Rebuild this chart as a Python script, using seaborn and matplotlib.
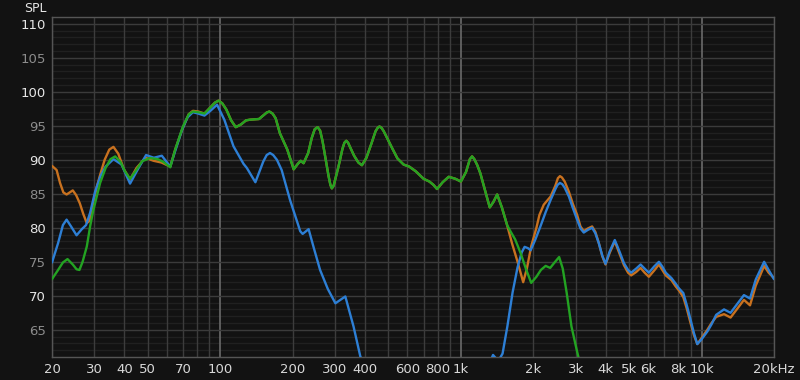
import numpy as np
import pandas as pd
import matplotlib
matplotlib.use("Agg")
import matplotlib.pyplot as plt
from matplotlib.ticker import NullLocator
import seaborn as sns

# ---------------- data ----------------
orange_freq = [20, 20.9, 21.6, 22.3, 23.0, 23.7, 24.4, 25.2, 26.1, 27.0, 27.9, 28.6, 29.7,
               30.7, 31.7, 33.1, 34.6, 36.0, 37.7, 39.8, 42.2, 44.9, 48.9, 52.9, 57.0,
               62.0, 65.0, 69.4, 74.0, 77.0, 81.0, 86.0]
orange_db = [89.1, 88.5, 86.6, 85.2, 84.9, 85.2, 85.5, 84.8, 83.6, 82.0, 80.7, 81.0, 83.8,
             86.0, 87.8, 90.0, 91.5, 91.9, 90.9, 88.6, 87.1, 88.8, 90.3, 89.85, 89.6,
             89.0, 91.5, 94.4, 96.7, 97.2, 97.1, 96.8]

green_freq = [20, 21.2, 22.2, 23.2, 24.4, 25.3, 26.0, 26.8, 27.9, 28.8, 29.7, 31.7, 33.4,
              35.0, 36.6, 38.5, 40.2, 42.2, 44.8, 47.4, 51.1, 55.0, 58.0, 62.0, 65.0,
              70.0, 74.0, 77.0, 81.0, 86.0]
green_db = [72.45, 73.8, 74.9, 75.4, 74.6, 73.9, 73.8, 75.0, 77.25, 80.2, 82.6, 86.6, 88.8,
            90.1, 90.5, 89.7, 88.3, 87.2, 88.5, 89.8, 90.25, 90.1, 89.7, 88.9, 91.5,
            94.9, 96.7, 97.1, 97.0, 96.8]

# shared part of orange and green (100 Hz - 1.5 kHz)
mid_freq = [91, 95, 98.4, 102, 106, 111, 116, 122, 128, 133, 145, 152, 156, 160, 165, 170,
            177, 190, 202, 210, 216, 222, 232, 240, 247, 254, 260, 266, 272, 282, 287,
            291, 296, 302, 310, 322, 328, 334, 340, 346, 360, 375, 388, 405, 425, 442,
            451, 459, 468, 478, 497, 520, 545, 578, 610, 650, 700, 740, 770, 796, 840,
            890, 950, 1000, 1050, 1090, 1113, 1137, 1170, 1205, 1260, 1318, 1365, 1415,
            1480, 1556]
mid_db = [97.7, 98.4, 98.7, 98.3, 97.4, 95.8, 94.8, 95.2, 95.8, 95.9, 96.0, 96.6, 96.95,
          97.1, 96.8, 96.1, 93.9, 91.5, 88.6, 89.4, 89.85, 89.5, 91.0, 93.2, 94.5, 94.8,
          94.3, 92.8, 90.8, 87.6, 86.3, 85.8, 86.2, 87.4, 89.0, 91.6, 92.5, 92.8, 92.5,
          91.9, 90.6, 89.6, 89.2, 90.3, 92.4, 94.2, 94.7, 94.9, 94.7, 94.2, 93.0, 91.6,
          90.2, 89.3, 89.0, 88.3, 87.2, 86.8, 86.3, 85.7, 86.7, 87.5, 87.2, 86.8, 88.2,
          90.1, 90.5, 90.1, 89.2, 88.0, 85.5, 83.0, 83.8, 84.9, 83.0, 80.4]

green_hi_freq = [1600, 1680, 1770, 1870, 1960, 2060, 2150, 2250, 2350, 2450, 2560, 2650,
                 2750, 2880, 3040, 3150, 3300]
green_hi_db = [79.6, 78.3, 76.3, 73.8, 71.9, 72.8, 73.8, 74.4, 74.1, 74.9, 75.7, 74.0,
               70.5, 65.5, 61.8, 59.5, 57.0]

orange_hi_freq = [1630, 1720, 1815, 1880, 1960, 2060, 2120, 2210, 2360, 2470, 2530, 2580,
                  2630, 2700, 2810, 2920, 3040, 3140, 3240, 3370, 3510, 3620, 3740, 3870,
                  3990, 4150, 4360, 4550, 4760, 4950, 5100, 5350, 5580, 5800, 6040, 6350,
                  6650, 6870, 7100, 7500, 7800, 8050, 8400, 8700, 9000, 9300, 9600, 10000,
                  10570, 11000, 11500, 12400, 13200, 14000, 15000, 15900, 16800, 18200,
                  19000, 20000]
orange_hi_db = [77.75, 75.0, 72.0, 74.0, 77.3, 80.0, 81.9, 83.4, 84.6, 86.2, 87.3, 87.6,
                87.4, 86.8, 85.3, 83.5, 81.9, 80.2, 79.5, 79.9, 80.2, 79.4, 77.8, 75.8,
                74.6, 76.3, 78.0, 76.3, 74.5, 73.4, 73.0, 73.5, 74.1, 73.4, 72.8, 73.7,
                74.6, 73.8, 73.0, 72.3, 71.4, 70.8, 69.8, 68.0, 66.0, 64.2, 62.9, 63.8,
                65.0, 66.0, 66.9, 67.3, 66.8, 68.0, 69.4, 68.6, 71.5, 74.4, 73.4, 72.6]

blue_freq = [20, 21.2, 22.2, 23.0, 24.0, 25.3, 26.6, 27.7, 28.8, 30.2, 31.7, 33.4, 36.0,
             38.9, 42.2, 45.3, 49.2, 53.0, 57.2, 62.0, 65.0, 69.4, 73.0, 77.0, 81.0, 86.0,
             91.0, 97.0, 104, 113.5, 125, 129, 140, 151, 156, 161, 166, 172, 180, 195, 215,
             220, 233, 245, 260, 280, 301, 331, 358, 382, 420, 600, 1000, 1250, 1360, 1430,
             1490, 1560, 1640, 1720, 1790, 1840, 1900, 1950, 2040, 2140, 2250, 2360, 2470,
             2520, 2580, 2640, 2700, 2810, 2920, 3040, 3140, 3240, 3370, 3510, 3620, 3740,
             3870, 3990, 4150, 4360, 4550, 4760, 4950, 5100, 5350, 5580, 5800, 6040, 6350,
             6650, 6870, 7100, 7500, 7800, 8050, 8400, 8700, 9000, 9300, 9600, 10000, 10570,
             11000, 11500, 12400, 13200, 14000, 15000, 15900, 16800, 18200, 19000, 20000]
blue_db = [74.9, 77.75, 80.4, 81.2, 80.2, 78.9, 79.8, 80.4, 82.2, 85.3, 87.5, 89.0, 90.1,
           89.3, 86.5, 88.5, 90.7, 90.3, 90.6, 89.0, 91.3, 94.4, 96.2, 97.0, 96.8, 96.5,
           97.2, 98.1, 95.9, 92.0, 89.4, 88.8, 86.7, 89.75, 90.7, 91.0, 90.7, 90.0, 88.5,
           84.1, 79.5, 79.1, 79.8, 77.0, 73.8, 71.0, 68.9, 69.9, 65.5, 61.1, 57.5, 52.0,
           52.0, 58.0, 61.3, 60.4, 61.5, 65.5, 70.5, 74.2, 76.4, 77.2, 77.0, 76.7, 78.3,
           80.2, 82.3, 84.1, 85.7, 86.3, 86.6, 86.4, 85.9, 84.6, 82.9, 81.2, 79.9, 79.3,
           79.7, 80.0, 79.2, 77.75, 75.9, 74.7, 76.5, 78.2, 76.6, 74.8, 73.8, 73.4, 74.0,
           74.6, 74.0, 73.4, 74.3, 75.0, 74.3, 73.4, 72.6, 71.8, 71.1, 70.4, 68.5, 66.5,
           64.5, 62.9, 63.6, 64.75, 65.8, 67.2, 68.0, 67.5, 68.7, 70.1, 69.6, 72.4, 75.0,
           73.8, 72.45]

x_ticks = [20, 30, 40, 50, 70, 100, 200, 300, 400, 600, 800, 1000, 2000, 3000, 4000,
           5000, 6000, 8000, 10000, 20000]
x_labels = ["20", "30", "40", "50", "70", "100", "200", "300", "400", "600", "800", "1k",
            "2k", "3k", "4k", "5k", "6k", "8k", "10k", "20kHz"]
y_ticks = [65, 70, 75, 80, 85, 90, 95, 100, 105, 110]

# ---------------- build long table ----------------
series_names = ["orange", "blue", "green"]
palette = {"orange": "#c8711f", "blue": "#2d7fd5", "green": "#23a322"}
frames = [
    pd.DataFrame({"freq": orange_freq + mid_freq + orange_hi_freq,
                  "spl": orange_db + mid_db + orange_hi_db, "series": "orange"}),
    pd.DataFrame({"freq": blue_freq, "spl": blue_db, "series": "blue"}),
    pd.DataFrame({"freq": green_freq + mid_freq + green_hi_freq,
                  "spl": green_db + mid_db + green_hi_db, "series": "green"}),
]
df = pd.concat(frames, ignore_index=True)

# ---------------- figure ----------------
sns.set_theme(style="dark")
plt.rcParams["font.family"] = ["DejaVu Sans"]
bg = "#121212"
fig = plt.figure(figsize=(8, 3.8), dpi=100, facecolor=bg)
ax = fig.add_axes([52 / 800, 23 / 380, 722 / 800, 340 / 380])
ax.set_facecolor(bg)
ax.set_xscale("log")
ax.set_xlim(20, 20000)
ax.set_ylim(61, 111)

# grid
for dec in [10, 100, 1000, 10000]:
    for m in range(1, 10):
        f = dec * m
        if 20 <= f <= 20000:
            major = m == 1 and dec >= 100
            ax.axvline(f, color="#6a6a6a" if major else "#3c3c3c",
                       lw=1.2 if major else 1.0, zorder=1)
for v in range(61, 111):
    if v % 5 == 0:
        ax.axhline(v, color="#3b3b3b", lw=1.0, zorder=1)
    else:
        ax.axhline(v, color="#202020", lw=1.0, zorder=0.5)

sns.lineplot(data=df, x="freq", y="spl", hue="series", hue_order=series_names,
             palette=palette, estimator=None, sort=False, linewidth=1.7,
             legend=False, ax=ax, zorder=3)

ax.set_xticks(x_ticks)
ax.set_xticklabels(x_labels)
ax.xaxis.set_minor_locator(NullLocator())
ax.set_yticks(y_ticks)
ax.set_yticklabels([str(v) for v in y_ticks])
ax.tick_params(axis="x", length=0, pad=4, labelsize=9.5, colors="#d8d8d8")
ax.tick_params(axis="y", length=0, pad=4.5, labelsize=9.5)
for lab, v in zip(ax.get_yticklabels(), y_ticks):
    lab.set_color("#e6e6e6" if v % 10 == 0 else "#8c8c8c")
ax.set_xlabel("")
ax.set_ylabel("")
ax.grid(False)
for s in ax.spines.values():
    s.set_color("#555555")
    s.set_linewidth(1.0)
    s.set_visible(True)

fig.text(47 / 800, 1 - 8 / 380, "SPL", ha="right", va="center",
         color="#e6e6e6", fontsize=9)

fig.savefig("out.png", dpi=100, facecolor=bg)
